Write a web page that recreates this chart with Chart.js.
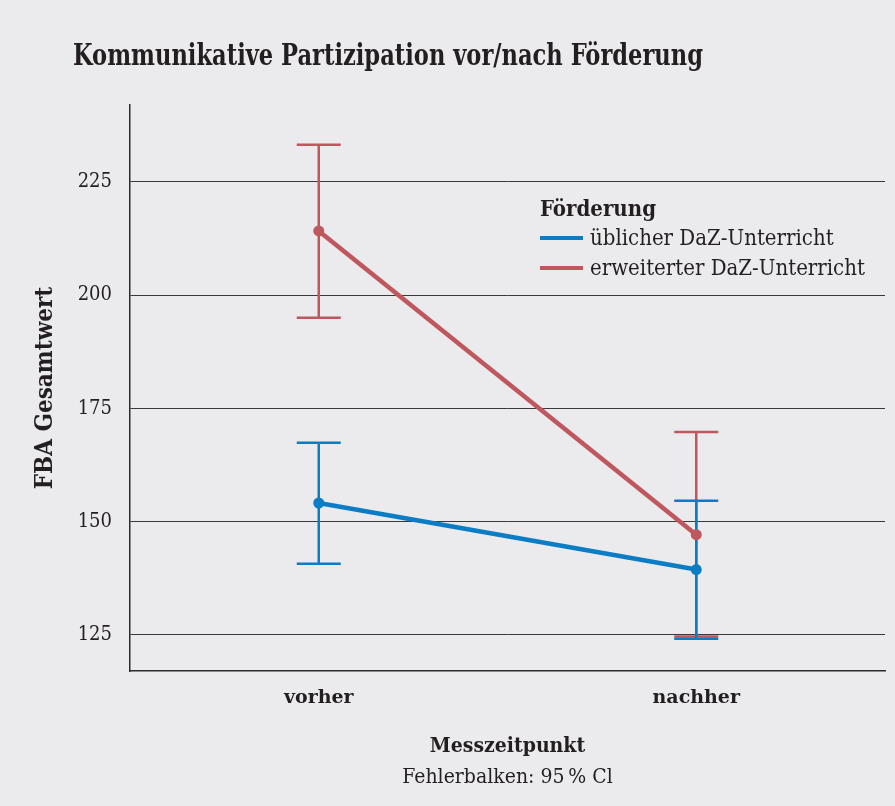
<!DOCTYPE html>
<html>
<head>
<meta charset="utf-8">
<script src="https://cdn.jsdelivr.net/npm/chart.js@4.4.0/dist/chart.umd.min.js"></script>
<style>
  html, body { margin: 0; padding: 0; background: #ebeaed; }
  #wrap { width: 895px; height: 806px; }
</style>
</head>
<body>
<div id="wrap"><canvas id="chart" width="895" height="806"></canvas></div>
<script>
const categories = ['vorher', 'nachher'];

const ueblichMean = [154.1, 139.4];
const ueblichLow = [140.7, 124.1];
const ueblichHigh = [167.4, 154.6];

const erweitertMean = [214.2, 147.1];
const erweitertLow = [195.0, 124.6];
const erweitertHigh = [233.2, 169.8];

const yTicks = [125, 150, 175, 200, 225];

const FONT = '"DejaVu Serif Condensed", "DejaVu Serif", serif';
const WIDE = '"DejaVu Serif", serif';
const TEXT = '#231f20';
const BLUE = '#0a7dc4';
const RED = '#bf575e';

// whiskers are drawn before the lines so the lines sit on top
const errorBars = {
    id: 'errorBars',
    beforeDatasetsDraw(chart) {
        const {ctx, scales: {x, y}} = chart;
        [1, 0].forEach(i => {
            const ds = chart.data.datasets[i];
            ctx.save();
            ctx.strokeStyle = ds.borderColor;
            ctx.lineWidth = 2.5;
            ds.low.forEach((lo, j) => {
                const px = x.getPixelForValue(j);
                const top = y.getPixelForValue(ds.high[j]);
                const bot = y.getPixelForValue(lo);
                ctx.beginPath();
                ctx.moveTo(px, top);
                ctx.lineTo(px, bot);
                ctx.moveTo(px - 22, top);
                ctx.lineTo(px + 22, top);
                ctx.moveTo(px - 22, bot);
                ctx.lineTo(px + 22, bot);
                ctx.stroke();
            });
            ctx.restore();
        });
    }
};

const texts = {
    id: 'texts',
    afterDraw(chart) {
        const {ctx, chartArea} = chart;
        ctx.save();
        ctx.fillStyle = TEXT;
        ctx.textBaseline = 'alphabetic';

        // main title, squeezed to the width of the original
        const title = 'Kommunikative Partizipation vor/nach Förderung';
        ctx.font = 'bold 30px ' + FONT;
        const w = ctx.measureText(title).width;
        ctx.save();
        ctx.translate(73, 65);
        ctx.scale(630 / w, 1);
        ctx.textAlign = 'left';
        ctx.fillText(title, 0, 0);
        ctx.restore();

        // legend
        ctx.textAlign = 'left';
        ctx.font = 'bold 22px ' + FONT;
        ctx.fillText('Förderung', 540, 216);
        ctx.font = '22px ' + FONT;
        chart.data.datasets.forEach((ds, i) => {
            const ly = 238 + i * 30;
            ctx.strokeStyle = ds.borderColor;
            ctx.lineWidth = 4;
            ctx.beginPath();
            ctx.moveTo(540, ly);
            ctx.lineTo(583, ly);
            ctx.stroke();
            ctx.fillText(ds.label, 590, ly + 7);
        });

        // x axis title and note
        const cx = (chartArea.left + chartArea.right) / 2;
        ctx.textAlign = 'center';
        ctx.font = 'bold 21px ' + FONT;
        ctx.fillText('Messzeitpunkt', cx, 752);
        ctx.font = '21px ' + FONT;
        ctx.fillText('Fehlerbalken: 95\u202F% Cl', cx, 783);
        ctx.restore();
    }
};

new Chart(document.getElementById('chart'), {
    type: 'line',
    data: {
        labels: categories,
        datasets: [
            {
                label: 'üblicher DaZ-Unterricht',
                data: ueblichMean,
                low: ueblichLow,
                high: ueblichHigh,
                borderColor: BLUE,
                backgroundColor: BLUE,
                borderWidth: 4.5,
                pointRadius: 5.5,
                pointBorderWidth: 0,
                tension: 0
            },
            {
                label: 'erweiterter DaZ-Unterricht',
                data: erweitertMean,
                low: erweitertLow,
                high: erweitertHigh,
                borderColor: RED,
                backgroundColor: RED,
                borderWidth: 4.5,
                pointRadius: 5.5,
                pointBorderWidth: 0,
                tension: 0
            }
        ]
    },
    options: {
        responsive: false,
        animation: false,
        layout: {
            padding: {top: 105, right: 10, bottom: 0, left: 0}
        },
        plugins: {
            legend: {display: false},
            title: {display: false},
            tooltip: {enabled: false}
        },
        scales: {
            x: {
                type: 'category',
                offset: true,
                grid: {display: false, drawTicks: false},
                border: {display: true, color: '#2b2b2b', width: 1.5},
                ticks: {
                    color: TEXT,
                    padding: 16,
                    font: {family: WIDE, size: 19, weight: 'bold'}
                },
                afterFit(scale) {
                    scale.height = 135;
                }
            },
            y: {
                min: 117,
                max: 242,
                afterBuildTicks(scale) {
                    scale.ticks = yTicks.map(v => ({value: v}));
                },
                grid: {color: '#3a3a3a', lineWidth: 1, drawTicks: false},
                border: {display: true, color: '#2b2b2b', width: 1.5},
                ticks: {
                    color: TEXT,
                    padding: 18,
                    font: {family: FONT, size: 20}
                },
                title: {
                    display: true,
                    text: 'FBA Gesamtwert',
                    color: TEXT,
                    padding: {top: 31},
                    font: {family: FONT, size: 24, weight: 'bold'}
                },
                afterFit(scale) {
                    scale.width = 130;
                }
            }
        }
    },
    plugins: [errorBars, texts]
});
</script>
</body>
</html>
